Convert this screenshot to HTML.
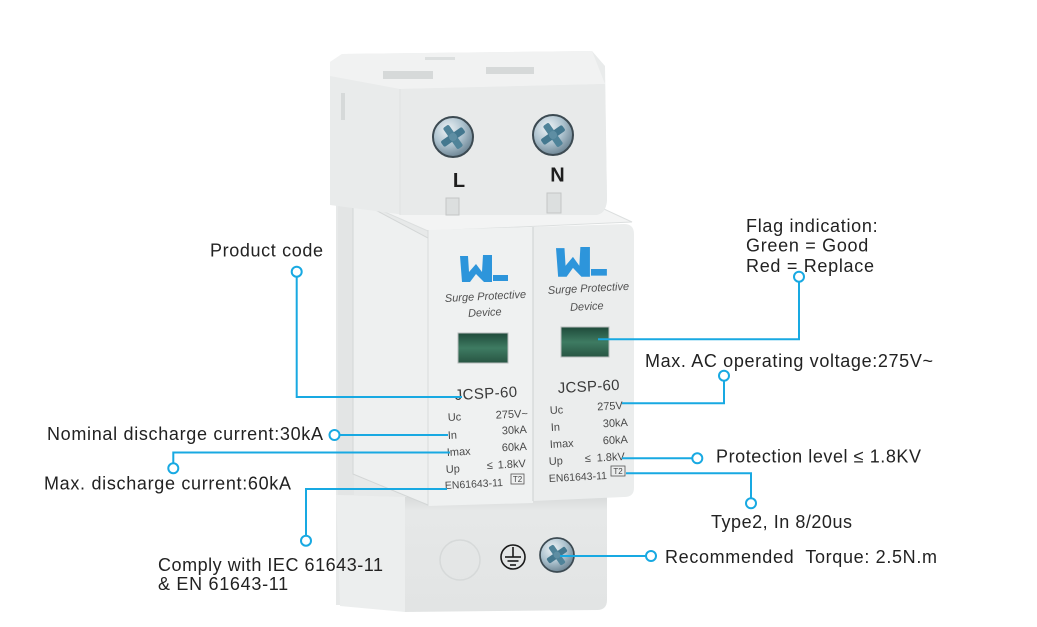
<!DOCTYPE html>
<html><head><meta charset="utf-8"><style>
html,body{margin:0;padding:0;background:#fff;}
svg{display:block;}
text{font-family:"Liberation Sans",Arial,sans-serif;}
.lb{font-size:18px;fill:#222;}
.sp{font-size:11px;fill:#4a4a4a;}
</style></head><body>
<svg width="1037" height="627" viewBox="0 0 1037 627" xmlns="http://www.w3.org/2000/svg">
<defs>
<radialGradient id="sg" cx="38%" cy="32%" r="70%"><stop offset="0" stop-color="#eef3f6"/><stop offset="0.55" stop-color="#aec3cf"/><stop offset="1" stop-color="#6d8594"/></radialGradient>
<linearGradient id="win" x1="0" y1="0" x2="0" y2="1"><stop offset="0" stop-color="#1f4a3a"/><stop offset="0.5" stop-color="#3e7b62"/><stop offset="1" stop-color="#285543"/></linearGradient>
<linearGradient id="bot" x1="0" y1="0" x2="0" y2="1"><stop offset="0" stop-color="#d8dbdb"/><stop offset="0.12" stop-color="#e6e8e8"/><stop offset="1" stop-color="#e2e4e4"/></linearGradient>
<g id="screw">
<circle r="20" fill="url(#sg)" stroke="#3c4a52" stroke-width="2"/>
<rect x="-13" y="-3.5" width="26" height="7" rx="2" fill="#44788f" transform="rotate(-35)"/>
<rect x="-13" y="-3.5" width="26" height="7" rx="2" fill="#4f8399" transform="rotate(55)"/>
<circle r="4" fill="#5e8ea3"/>
</g>
<path id="logo" d="M0,1 L8,1 L9,17 L16,9 L22,17 L23,0 L32,0 L32,27 L24,27 L16,19 L10,27 L2,27 Z M33,20 L48,20 L48,26 L33,26 Z"/>
</defs>

<!-- back rail body -->
<rect x="336" y="200" width="100" height="405" fill="#e7e9e9"/>
<rect x="341" y="300" width="4" height="30" fill="#d2d5d5"/>
<rect x="343" y="500" width="4" height="34" fill="#d2d5d5"/>

<!-- bottom block -->
<path d="M336,495 L405,497 L405,612 L340,606 Z" fill="#eceeee"/>
<path d="M405,497 L607,497 L607,600 Q607,610 597,610 L405,612 Z" fill="url(#bot)"/>
<circle cx="460" cy="560" r="20" fill="none" stroke="#d6d9d9" stroke-width="1.5"/>
<g stroke="#1a1a1a" stroke-width="1.6" fill="none">
<circle cx="513" cy="557" r="12"/>
<line x1="513" y1="547" x2="513" y2="557"/>
<line x1="505" y1="557" x2="521" y2="557"/>
<line x1="507.5" y1="561" x2="518.5" y2="561"/>
<line x1="510" y1="565" x2="516" y2="565"/>
</g>
<use href="#screw" transform="translate(557,555) scale(0.85)"/>

<!-- middle side panel -->
<rect x="338" y="205" width="16" height="290" fill="#e3e5e5"/>
<polygon points="353,198 428,238 428,505 353,474" fill="#eef0f0" stroke="#d3d6d6" stroke-width="1"/>
<!-- ledge -->
<polygon points="398,212 604,209 632,222 428,231 353,198" fill="#f3f4f4" stroke="#dcdfdf" stroke-width="1"/>
<!-- modules -->
<path d="M428,230 L533,227 L533,503 L428,506 Z" fill="#eff1f1"/>
<path d="M533,227 L624,224 Q634,224 634,234 L634,488 Q634,497 624,497 L533,501 Z" fill="#ebeded"/>
<line x1="533" y1="227" x2="533" y2="501" stroke="#d3d6d6" stroke-width="1.2"/>
<line x1="428" y1="230" x2="428" y2="506" stroke="#d8dbdb" stroke-width="1"/>

<!-- top block -->
<path d="M330,62 L342,54 L592,51 L605,66 L607,200 Q606,214 596,215 L405,215 L330,205 Z" fill="#e9ebeb"/>
<polygon points="330,62 342,54 592,51 605,84 400,89 330,76" fill="#f1f2f2"/>
<path d="M400,89 L605,84 L607,200 Q606,214 596,215 L400,215 Z" fill="#e8eaea"/>
<line x1="400" y1="89" x2="400" y2="215" stroke="#dfe2e2" stroke-width="1"/>
<rect x="341" y="93" width="4" height="27" fill="#d6d9d9"/>
<rect x="383" y="71" width="50" height="8" fill="#d6d9d9"/>
<rect x="486" y="67" width="48" height="7" fill="#d6d9d9"/>
<rect x="425" y="57" width="30" height="3" fill="#dcdfdf"/>
<rect x="446" y="198" width="13" height="17" fill="#dcdfdf" stroke="#c3c6c6" stroke-width="1"/>
<rect x="547" y="193" width="14" height="20" fill="#dcdfdf" stroke="#c3c6c6" stroke-width="1"/>
<use href="#screw" transform="translate(453,137)"/>
<use href="#screw" transform="translate(553,135)"/>
<text x="459" y="187" font-size="20" font-weight="bold" fill="#1e1e1e" text-anchor="middle">L</text>
<text x="557.5" y="181.5" font-size="20" font-weight="bold" fill="#1e1e1e" text-anchor="middle">N</text>

<!-- logos -->
<use href="#logo" fill="#2d95db" transform="translate(460,255)"/>
<use href="#logo" fill="#2d95db" transform="translate(556,247) scale(1.06,1.1)"/>

<!-- module texts left -->
<text x="445" y="302" font-size="11" font-style="italic" fill="#505050" transform="rotate(-3 445 302)">Surge Protective</text>
<text x="485" y="316" font-size="11" font-style="italic" fill="#505050" text-anchor="middle" transform="rotate(-3 485 316)">Device</text>
<rect x="458" y="333" width="50" height="30" fill="url(#win)" stroke="#b8bdbd" stroke-width="1"/>
<text x="455" y="400" font-size="15" fill="#3a3a3a" letter-spacing="0.4" transform="rotate(-3 455 400)">JCSP-60</text>
<text class="sp" x="448" y="421" transform="rotate(-3 448 421)">Uc</text>
<text class="sp" x="528" y="417" text-anchor="end" transform="rotate(-3 528 417)">275V~</text>
<text class="sp" x="448" y="439" transform="rotate(-3 448 439)">In</text>
<text class="sp" x="527" y="433" text-anchor="end" transform="rotate(-3 527 433)">30kA</text>
<text class="sp" x="447" y="456" transform="rotate(-3 447 456)">Imax</text>
<text class="sp" x="527" y="450" text-anchor="end" transform="rotate(-3 527 450)">60kA</text>
<text class="sp" x="446" y="473" transform="rotate(-3 446 473)">Up</text>
<text class="sp" x="487" y="469" transform="rotate(-3 487 469)">≤</text>
<text class="sp" x="526" y="467" text-anchor="end" transform="rotate(-3 526 467)">1.8kV</text>
<text x="445" y="489" font-size="10.5" fill="#4a4a4a" transform="rotate(-3 445 489)">EN61643-11</text>
<rect x="511" y="474" width="13" height="10" fill="none" stroke="#555" stroke-width="0.8"/>
<text x="517.5" y="482" font-size="8" fill="#444" text-anchor="middle">T2</text>

<!-- module texts right -->
<text x="548" y="294" font-size="11" font-style="italic" fill="#505050" transform="rotate(-3 548 294)">Surge Protective</text>
<text x="587" y="310" font-size="11" font-style="italic" fill="#505050" text-anchor="middle" transform="rotate(-3 587 310)">Device</text>
<rect x="561" y="327" width="48" height="30" fill="url(#win)" stroke="#b8bdbd" stroke-width="1"/>
<text x="558" y="393" font-size="15" fill="#3a3a3a" letter-spacing="0.3" transform="rotate(-3 558 393)">JCSP-60</text>
<text class="sp" x="550" y="414" transform="rotate(-3 550 414)">Uc</text>
<text class="sp" x="623" y="409" text-anchor="end" transform="rotate(-3 623 409)">275V</text>
<text class="sp" x="551" y="431" transform="rotate(-3 551 431)">In</text>
<text class="sp" x="628" y="426" text-anchor="end" transform="rotate(-3 628 426)">30kA</text>
<text class="sp" x="550" y="448" transform="rotate(-3 550 448)">Imax</text>
<text class="sp" x="628" y="443" text-anchor="end" transform="rotate(-3 628 443)">60kA</text>
<text class="sp" x="549" y="465" transform="rotate(-3 549 465)">Up</text>
<text class="sp" x="585" y="462" transform="rotate(-3 585 462)">≤</text>
<text class="sp" x="625" y="460" text-anchor="end" transform="rotate(-3 625 460)">1.8kV</text>
<text x="549" y="482" font-size="10.5" fill="#4a4a4a" transform="rotate(-3 549 482)">EN61643-11</text>
<rect x="611" y="466" width="14" height="10" fill="none" stroke="#555" stroke-width="0.8"/>
<text x="618" y="474" font-size="8" fill="#444" text-anchor="middle">T2</text>

<!-- callout lines -->
<g fill="none" stroke="#18a9e2" stroke-width="2">
<polyline points="296.7,276.5 296.7,397 462,397"/>
<polyline points="339.5,435 448,435"/>
<polyline points="173.3,463.3 173.3,452.5 450,452.5"/>
<polyline points="306,535.7 306,489 447,489"/>
<polyline points="799,281.7 799,339.3 598,339.3"/>
<polyline points="724,370.7 724,403.3 622,403.3"/>
<polyline points="692.3,458.3 622,458.3"/>
<polyline points="626,473.3 751,473.3 751,498.3"/>
<polyline points="646,556 560,556"/>
</g>
<g fill="#fff" stroke="#18a9e2" stroke-width="2">
<circle cx="296.7" cy="271.7" r="5"/>
<circle cx="334.5" cy="435" r="5"/>
<circle cx="173.3" cy="468.3" r="5"/>
<circle cx="306" cy="540.7" r="5"/>
<circle cx="799" cy="276.7" r="5"/>
<circle cx="724" cy="375.7" r="5"/>
<circle cx="697.3" cy="458.3" r="5"/>
<circle cx="751" cy="503.3" r="5"/>
<circle cx="651" cy="556" r="5"/>
</g>

<!-- labels -->
<text class="lb" x="210" y="256.5" textLength="113" lengthAdjust="spacing">Product code</text>
<text class="lb" x="47" y="440" textLength="276" lengthAdjust="spacing">Nominal discharge current:30kA</text>
<text class="lb" x="44" y="489.5" textLength="247" lengthAdjust="spacing">Max. discharge current:60kA</text>
<text class="lb" x="158" y="571" textLength="225" lengthAdjust="spacing">Comply with IEC 61643-11</text>
<text class="lb" x="158" y="590" letter-spacing="0.7">&amp; EN 61643-11</text>
<text class="lb" x="746" y="232" letter-spacing="0.7">Flag indication:</text>
<text class="lb" x="746" y="251.5" letter-spacing="0.7">Green = Good</text>
<text class="lb" x="746" y="272" letter-spacing="0.7">Red = Replace</text>
<text class="lb" x="645" y="367" textLength="288" lengthAdjust="spacing">Max. AC operating voltage:275V~</text>
<text class="lb" x="716" y="462.5" textLength="205" lengthAdjust="spacing">Protection level ≤ 1.8KV</text>
<text class="lb" x="711" y="528" textLength="141" lengthAdjust="spacing">Type2, In 8/20us</text>
<text class="lb" x="665" y="563" textLength="272" lengthAdjust="spacing">Recommended&#160; Torque: 2.5N.m</text>
</svg>
</body></html>
